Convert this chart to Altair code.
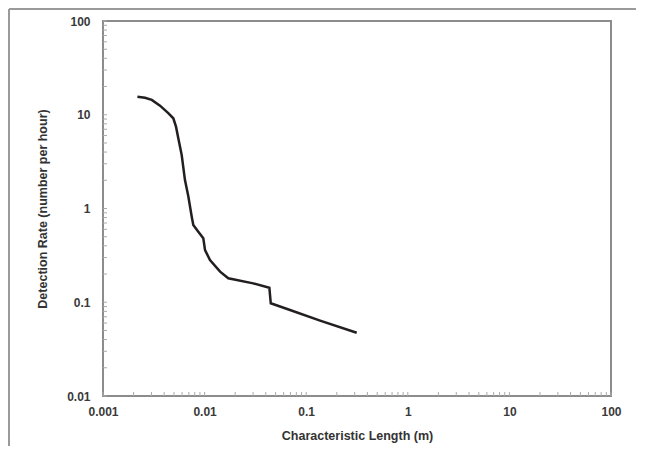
import altair as alt
import pandas as pd

# Curve
length_m = [0.00218, 0.00259, 0.00302, 0.00364, 0.00439, 0.00492, 0.00523, 0.00551,
            0.00595, 0.00641, 0.00692, 0.00747, 0.00774, 0.00867, 0.00971, 0.0101,
            0.0113, 0.0142, 0.0171, 0.0301, 0.0434, 0.0448, 0.0693, 0.137, 0.314]
rate = [15.6, 15.2, 14.4, 12.5, 10.4, 9.17, 7.46, 5.61,
        3.72, 2.01, 1.34, 0.818, 0.667, 0.566, 0.481, 0.360,
        0.282, 0.212, 0.180, 0.159, 0.143, 0.0975, 0.0826, 0.0636, 0.0473]

x_labels = [0.001, 0.01, 0.1, 1, 10, 100]
y_labels = [0.01, 0.1, 1, 10, 100]
x_minor = [m * d for d in [0.001, 0.01, 0.1, 1, 10] for m in range(1, 10)] + [100]
y_minor = [m * d for d in [0.01, 0.1, 1, 10] for m in range(1, 10)] + [100]

W, H = 508, 375
PAD = {"left": 95, "top": 13, "right": 25, "bottom": 50}

df = pd.DataFrame({"length": length_m, "rate": rate, "order": list(range(len(rate)))})
xs = alt.Scale(type="log", domain=[0.001, 100], nice=False)
ys = alt.Scale(type="log", domain=[0.01, 100], nice=False)

line = alt.Chart(df).mark_line(color="#231f20", strokeWidth=2.5).encode(
    x=alt.X("length:Q", scale=xs,
            axis=alt.Axis(values=x_labels, format="~g", title="Characteristic Length (m)",
                          grid=False, ticks=False, domain=False, labelPadding=10,
                          labelFlush=False, titlePadding=12)),
    y=alt.Y("rate:Q", scale=ys,
            axis=alt.Axis(values=y_labels, format="~g", title="Detection Rate (number per hour)",
                          grid=False, ticks=False, domain=False, labelPadding=13,
                          labelFlush=False, titlePadding=17)),
    order="order:Q",
)

xt = alt.Chart(pd.DataFrame({"length": x_minor})).mark_rule(color="#aaaaaa", strokeWidth=1).encode(
    x=alt.X("length:Q", scale=xs), y=alt.value(H), y2=alt.value(H - 4))
yt = alt.Chart(pd.DataFrame({"rate": y_minor})).mark_rule(color="#aaaaaa", strokeWidth=1).encode(
    y=alt.Y("rate:Q", scale=ys), x=alt.value(0), x2=alt.value(4))

one = pd.DataFrame({"a": [0]})
frame_top = alt.Chart(one).mark_rule(color="#9a9a9a", strokeWidth=2).encode(
    x=alt.value(-94), x2=alt.value(W + PAD["right"]), y=alt.value(-12))
frame_left = alt.Chart(one).mark_rule(color="#9a9a9a", strokeWidth=2).encode(
    x=alt.value(-94), y=alt.value(-12), y2=alt.value(H + PAD["bottom"]))

chart = alt.layer(line, xt, yt, frame_top, frame_left).properties(
    width=W, height=H,
    autosize=alt.AutoSizeParams(type="none"),
    padding=PAD,
).configure_view(
    stroke="#8c8c8c", strokeWidth=2
).configure_axis(
    labelFont="Liberation Sans", labelFontSize=12, labelFontWeight="bold", labelColor="#3a3a3a",
    titleFont="Liberation Sans", titleFontSize=12.5, titleFontWeight="bold", titleColor="#333333",
)

chart.save("out.html", embed_options={"renderer": "svg", "actions": False})
